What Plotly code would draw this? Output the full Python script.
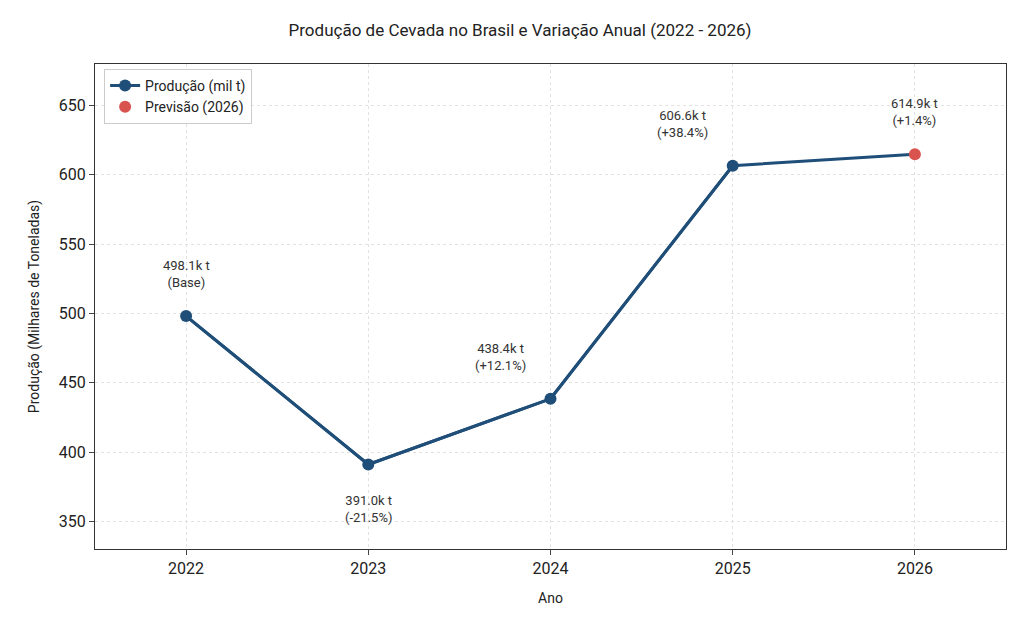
import plotly.graph_objects as go

anos = [2022, 2023, 2024, 2025]
producao = [498.1, 391.0, 438.4, 606.6]
ano_prev = [2026]
prev = [614.9]
rotulos = ["498.1k t<br>(Base)", "391.0k t<br>(-21.5%)", "438.4k t<br>(+12.1%)",
           "606.6k t<br>(+38.4%)", "614.9k t<br>(+1.4%)"]
y_ticks = [350, 400, 450, 500, 550, 600, 650]

AZUL = "#1f4e79"
VERMELHO = "#d9534f"

fig = go.Figure()
fig.add_trace(go.Scatter(
    x=anos + ano_prev, y=producao + prev, mode="lines",
    line=dict(color=AZUL, width=3), showlegend=False, hoverinfo="skip",
))
fig.add_trace(go.Scatter(
    x=anos, y=producao, mode="lines+markers", name="Produção (mil t)",
    line=dict(color=AZUL, width=3), marker=dict(size=12, color=AZUL),
))
fig.add_trace(go.Scatter(
    x=ano_prev, y=prev, mode="markers", name="Previsão (2026)",
    marker=dict(size=12, color=VERMELHO),
))

todos_x = anos + ano_prev
todos_y = producao + prev
for i, (x, y, t) in enumerate(zip(todos_x, todos_y, rotulos)):
    abaixo = i == 1
    fig.add_annotation(
        x=x, y=y, text=t, showarrow=False,
        yshift=-45 if abaixo else 42, xshift=0 if i in (0, 1, 4) else -50,
        font=dict(size=13, color="#333"),
    )

fig.update_layout(
    width=1024, height=626,
    title=dict(text="Produção de Cevada no Brasil e Variação Anual (2022 - 2026)",
               x=0.5, y=0.965, yanchor="middle", font=dict(size=17, color="#222")),
    font=dict(family="Roboto, Open Sans, sans-serif", color="#222"),
    paper_bgcolor="white", plot_bgcolor="white",
    margin=dict(l=87, r=26, t=56, b=85),
    legend=dict(x=0.01, y=0.99, xanchor="left", yanchor="top",
                bordercolor="#ccc", borderwidth=1, bgcolor="white",
                font=dict(size=14)),
    xaxis=dict(title=dict(text="Ano", font=dict(size=14)), range=[2021.5, 2026.5],
               tickvals=todos_x, tickfont=dict(size=16),
               showgrid=True, gridcolor="#e2e2e2", griddash="dot",
               showline=True, linecolor="#333", mirror=True, ticks="outside"),
    yaxis=dict(title=dict(text="Produção (Milhares de Toneladas)", font=dict(size=14)),
               range=[330, 680], tickvals=y_ticks, tickfont=dict(size=16),
               showgrid=True, gridcolor="#e2e2e2", griddash="dot", zeroline=False,
               showline=True, linecolor="#333", mirror=True, ticks="outside"),
)

fig.write_html("out.html")
